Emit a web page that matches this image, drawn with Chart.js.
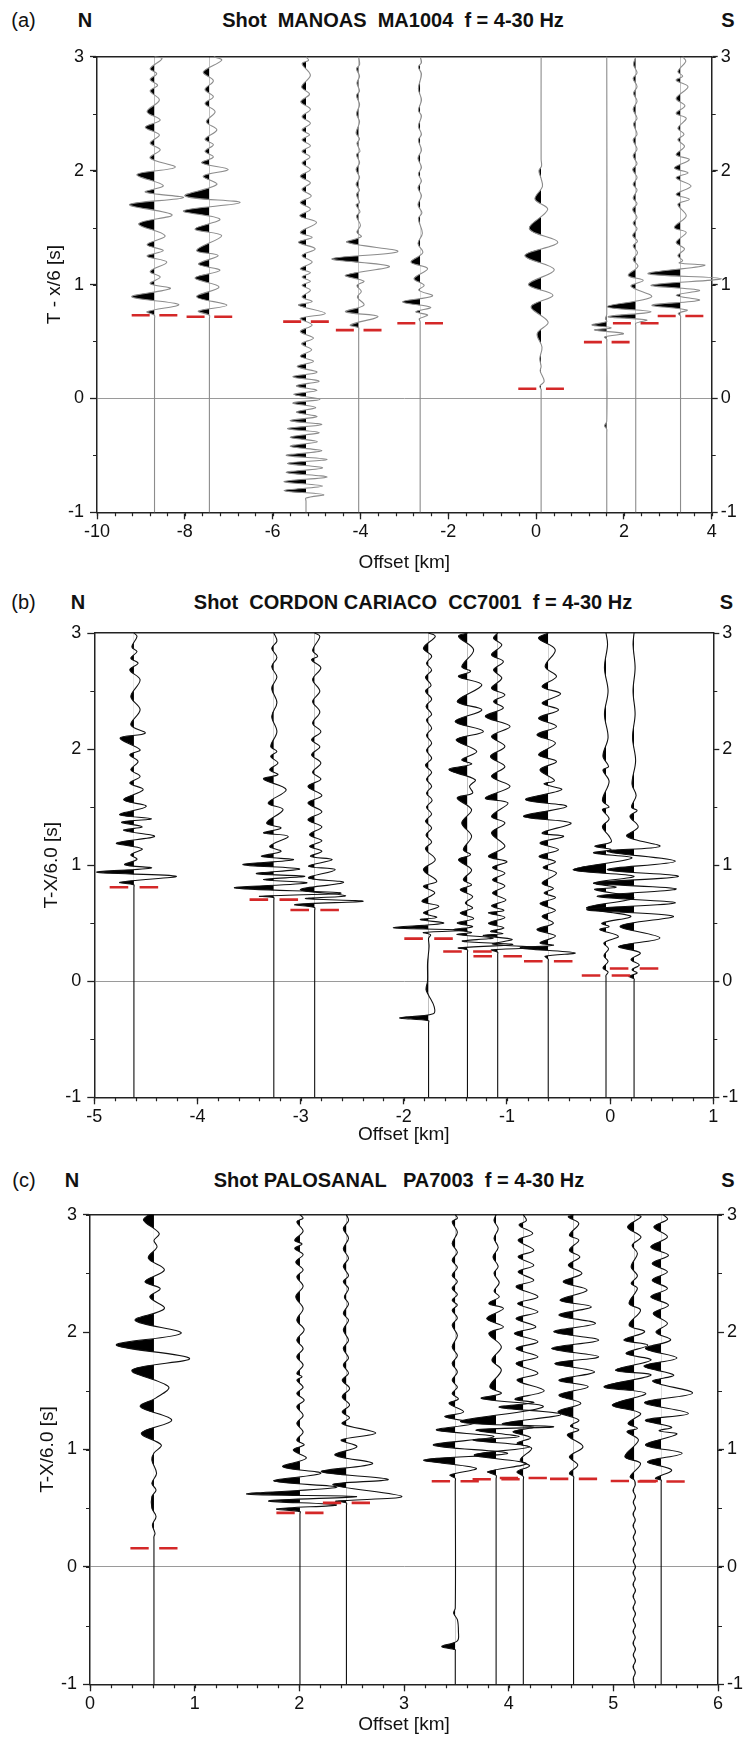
<!DOCTYPE html>
<html><head><meta charset="utf-8">
<script src="https://cdn.jsdelivr.net/npm/chart.js@4.4.1/dist/chart.umd.min.js"></script>
<style>
html,body{margin:0;padding:0;background:#fff;}
body{width:748px;height:1737px;position:relative;overflow:hidden;font-family:"Liberation Sans",Arial,Helvetica,sans-serif;color:#111;}
.t{position:absolute;transform:translate(-50%,-50%);white-space:pre;font-size:20px;line-height:1;}
.b{font-weight:bold;}
canvas{position:absolute;left:0;}
</style></head><body>
<div class="t" style="left:23.5px;top:20px">(a)</div>
<div class="t b" style="left:85px;top:20px">N</div>
<div class="t b" style="left:393px;top:20px">Shot  MANOAS  MA1004  f = 4-30 Hz</div>
<div class="t b" style="left:728px;top:20px">S</div>
<div class="t" style="left:23.5px;top:602px">(b)</div>
<div class="t b" style="left:78px;top:602px">N</div>
<div class="t b" style="left:413px;top:602px">Shot  CORDON CARIACO  CC7001  f = 4-30 Hz</div>
<div class="t b" style="left:726.5px;top:602px">S</div>
<div class="t" style="left:24px;top:1180px">(c)</div>
<div class="t b" style="left:72px;top:1180px">N</div>
<div class="t b" style="left:399px;top:1180px">Shot PALOSANAL   PA7003  f = 4-30 Hz</div>
<div class="t b" style="left:728px;top:1180px">S</div>
<canvas id="ca" width="748" height="545" style="top:40px"></canvas>
<canvas id="cb" width="748" height="540" style="top:615px"></canvas>
<canvas id="cc" width="748" height="542" style="top:1195px"></canvas>
<script>
// ---------- tick labels ----------
const yTicks = [-1, 0, 1, 2, 3];
const xTicksA = [-10, -8, -6, -4, -2, 0, 2, 4];
const xTicksB = [-5, -4, -3, -2, -1, 0, 1];
const xTicksC = [0, 1, 2, 3, 4, 5, 6];

// ---------- panel (a): trace offsets [km], picked times [s] ----------
const offsetsA = [-8.69, -7.44, -5.24, -4.04, -2.64, 0.115, 1.61, 2.27, 3.29];
const picksA = [0.73, 0.717, 0.674, 0.60, 0.66, 0.085, 0.494, 0.66, 0.724];
// traces: pairs of [reduced time (s), deflection (km)]
const A1 = [3.0,0, 2.983,0.17, 2.895,-0.1, 2.852,0.05, 2.80,-0.1, 2.75,0.07, 2.701,-0.1, 2.62,0.11, 2.518,-0.17, 2.445,0.13, 2.382,-0.21, 2.315,0.11, 2.242,-0.1, 2.184,0.13, 2.111,-0.1, 2.03,0.47, 1.966,-0.40, 1.87,0.2, 1.812,-0.21, 1.763,0.66, 1.702,-0.57, 1.612,0.40, 1.534,-0.36, 1.429,0.24, 1.351,-0.17, 1.298,0.2, 1.249,-0.17, 1.197,0.28, 1.115,-0.1, 1.066,0.13, 1.008,-0.1, 0.965,0.36, 0.892,-0.52, 0.825,0.55, 0.761,-0.17, 0.73,0, 0.70,0, -1,0];
const A2 = [3.0,0.1, 2.97,0.28, 2.866,-0.14, 2.79,0.09, 2.713,-0.1, 2.65,0.09, 2.59,-0.1, 2.518,0.13, 2.43,-0.07, 2.358,0.17, 2.277,-0.1, 2.228,0.09, 2.17,-0.1, 2.12,0.09, 2.068,-0.175, 2.01,0.43, 1.952,-0.14, 1.879,0.17, 1.778,-0.555, 1.72,0.70, 1.647,-0.59, 1.574,0.24, 1.487,-0.33, 1.43,0.28, 1.30,-0.29, 1.255,0.2, 1.18,-0.25, 1.124,0.24, 1.057,-0.33, 0.979,0.22, 0.892,-0.29, 0.819,0.40, 0.767,-0.25, 0.73,0, 0.70,0, -1,0];
const A3 = [3.0,0, 2.97,0.06, 2.939,-0.09, 2.837,0.1, 2.736,-0.1, 2.672,0.08, 2.605,-0.12, 2.538,0.1, 2.474,-0.09, 2.416,0.1, 2.358,-0.09, 2.315,0.08, 2.271,-0.09, 2.219,0.1, 2.17,-0.09, 2.12,0.09, 2.068,-0.09, 2.01,0.1, 1.952,-0.13, 1.894,0.1, 1.836,-0.09, 1.778,0.12, 1.72,-0.13, 1.662,0.1, 1.603,-0.14, 1.545,0.24, 1.458,-0.13, 1.415,0.14, 1.371,-0.17, 1.313,0.21, 1.255,-0.09, 1.197,0.14, 1.139,-0.13, 1.104,0.1, 1.066,-0.09, 1.029,0.1, 0.994,-0.09, 0.95,0.1, 0.892,-0.09, 0.85,0.14, 0.819,-0.17, 0.747,0.44, 0.703,-0.13, 0.645,0.14, 0.587,-0.13, 0.53,0.17, 0.48,-0.1, 0.427,0.13, 0.37,-0.13, 0.326,0.17, 0.28,-0.2, 0.23,0.25, 0.19,-0.3, 0.152,0.3, 0.11,-0.22, 0.07,0.25, 0.035,-0.28, -0.008,0.32, -0.04,-0.3, -0.08,0.22, -0.12,-0.22, -0.16,0.25, -0.195,-0.36, -0.23,0.36, -0.265,-0.42, -0.30,0.3, -0.34,-0.36, -0.38,0.26, -0.42,-0.36, -0.46,0.36, -0.5,-0.45, -0.535,0.48, -0.57,-0.42, -0.61,0.38, -0.65,-0.45, -0.69,0.48, -0.73,-0.5, -0.77,0.38, -0.81,-0.5, -0.845,0.4, -0.875,0, -0.9,0, -1,0];
const A4 = [3.0,0, 2.93,0.02, 2.895,-0.05, 2.83,0.02, 2.77,-0.04, 2.70,0.02, 2.66,-0.05, 2.58,0.02, 2.50,-0.05, 2.43,0.02, 2.33,-0.06, 2.28,0.02, 2.24,-0.04, 2.17,0.03, 2.14,-0.05, 2.07,0.02, 2.01,-0.06, 1.94,0.02, 1.88,-0.06, 1.83,0.02, 1.79,-0.05, 1.72,0.02, 1.70,-0.06, 1.64,0.03, 1.60,-0.05, 1.52,0.04, 1.46,-0.04, 1.42,0.06, 1.371,-0.27, 1.29,0.89, 1.226,-0.61, 1.16,0.70, 1.081,-0.30, 1.03,0.12, 0.99,-0.04, 0.94,0.06, 0.89,-0.03, 0.82,0.12, 0.761,-0.30, 0.72,0.44, 0.645,-0.19, 0.62,0, 0.60,0, -1,0];
const A5 = [3.0,0, 2.95,0.03, 2.91,-0.04, 2.85,0.03, 2.72,-0.04, 2.62,0.03, 2.53,-0.04, 2.48,0.03, 2.39,-0.04, 2.32,0.03, 2.27,-0.04, 2.18,0.03, 2.11,-0.05, 2.03,0.03, 1.97,-0.04, 1.91,0.03, 1.85,-0.05, 1.78,0.03, 1.70,-0.05, 1.63,0.04, 1.58,-0.04, 1.45,0.05, 1.36,-0.05, 1.28,0.06, 1.197,-0.21, 1.14,0.17, 1.052,-0.14, 0.994,0.09, 0.95,-0.03, 0.90,0.28, 0.848,-0.40, 0.80,0.24, 0.761,-0.10, 0.732,0.17, 0.70,-0.02, 0.675,0, 0.65,0, -1,0];
const A6 = [3.0,0, 2.1,0, 2.04,0.01, 2.0,-0.05, 1.93,0.0, 1.86,0.03, 1.75,-0.14, 1.66,0.15, 1.49,-0.27, 1.37,0.38, 1.255,-0.37, 1.13,0.30, 1.0,-0.29, 0.906,0.27, 0.805,-0.23, 0.67,0.16, 0.57,-0.09, 0.45,0.02, 0.35,-0.03, 0.28,0.0, 0.24,-0.02, 0.15,0.07, 0.107,-0.03, 0.08,0, 0.05,0, -1,0];
const A7 = [3.0,0, 0.74,0, 0.70,-0.03, 0.675,0, 0.645,-0.34, 0.62,0.10, 0.60,-0.28, 0.57,0.38, 0.54,-0.05, 0.52,0, 0.49,0, -0.2,0, -0.24,-0.05, -0.27,0, -0.3,0, -1,0];
const A8 = [3.0,0, 2.93,-0.05, 2.86,0.03, 2.81,-0.06, 2.74,0.03, 2.68,-0.05, 2.61,0.03, 2.54,-0.06, 2.46,0.03, 2.41,-0.05, 2.32,0.03, 2.27,-0.06, 2.19,0.03, 2.13,-0.06, 2.06,0.03, 2.01,-0.07, 1.94,0.03, 1.88,-0.06, 1.83,0.03, 1.76,-0.06, 1.71,0.03, 1.66,-0.07, 1.59,0.03, 1.54,-0.06, 1.49,0.03, 1.43,-0.07, 1.38,0.04, 1.34,-0.06, 1.28,0.04, 1.22,-0.06, 1.16,0.05, 1.08,-0.17, 1.037,0.17, 0.985,-0.11, 0.892,0.36, 0.805,-0.65, 0.761,0.35, 0.718,-0.63, 0.689,0.25, 0.66,0, 0.64,0, -1,0];
const A9 = [3.0,0.05, 2.96,0.12, 2.87,-0.06, 2.83,0.05, 2.794,-0.1, 2.736,0.17, 2.634,-0.1, 2.57,0.1, 2.503,-0.1, 2.46,0.13, 2.373,-0.06, 2.32,0.08, 2.271,-0.06, 2.213,0.09, 2.14,-0.1, 2.097,0.2, 2.024,-0.14, 1.981,0.17, 1.937,-0.1, 1.865,0.24, 1.792,-0.1, 1.748,0.2, 1.705,-0.06, 1.603,0.13, 1.502,-0.14, 1.458,0.13, 1.371,-0.1, 1.313,0.09, 1.255,-0.06, 1.21,0.05, 1.19,-0.03, 1.168,0.55, 1.095,-0.74, 1.052,0.93, 0.994,-0.67, 0.95,0.43, 0.906,-0.1, 0.862,0.43, 0.819,-0.65, 0.776,0.15, 0.747,-0.05, 0.724,0, 0.70,0, -1,0];

// ---------- panel (b) ----------
const offsetsB = [-4.616, -3.26, -2.864, -1.76, -1.383, -1.09, -0.60, -0.04, 0.232];
const picksB = [0.81, 0.703, 0.614, 0.367, 0.256, 0.215, 0.172, 0.049, 0.109];
const B1 = [3.0,0, 2.97,0.03, 2.88,-0.02, 2.84,0.03, 2.783,-0.03, 2.74,0.04, 2.682,-0.04, 2.596,0.06, 2.453,-0.03, 2.338,0.06, 2.209,-0.03, 2.137,0.11, 2.094,-0.135, 1.994,0.06, 1.951,-0.04, 1.893,0.04, 1.822,-0.03, 1.764,0.06, 1.707,-0.04, 1.65,0.09, 1.564,-0.10, 1.506,0.12, 1.435,-0.14, 1.40,0.17, 1.37,-0.12, 1.33,0.08, 1.30,-0.1, 1.248,0.2, 1.19,-0.17, 1.14,0.08, 1.09,-0.03, 1.05,0.03, 1.004,-0.09, 0.976,0.17, 0.938,-0.36, 0.904,0.41, 0.852,-0.135, 0.83,0, 0.81,0, -1,0];
const B2 = [3.0,0, 2.93,0.03, 2.869,-0.02, 2.79,0.03, 2.711,-0.02, 2.62,0.03, 2.525,-0.02, 2.40,0.03, 2.281,-0.02, 2.15,0.03, 2.023,-0.03, 1.98,0.03, 1.937,-0.03, 1.88,0.04, 1.822,-0.04, 1.78,0.04, 1.742,-0.10, 1.65,0.12, 1.535,-0.055, 1.478,0.09, 1.363,-0.07, 1.32,0.07, 1.277,-0.10, 1.248,0.14, 1.162,-0.04, 1.119,0.07, 1.076,-0.12, 1.047,0.19, 1.004,-0.30, 0.967,0.25, 0.927,-0.17, 0.904,0.3, 0.875,-0.10, 0.847,0.32, 0.804,-0.38, 0.76,0.65, 0.732,-0.135, 0.72,0, 0.70,0, -1,0];
const B3 = [3.0,0, 2.97,0.05, 2.85,-0.02, 2.80,0.03, 2.769,-0.03, 2.70,0.06, 2.60,-0.02, 2.50,0.05, 2.41,-0.02, 2.32,0.05, 2.223,-0.02, 2.15,0.06, 2.08,-0.03, 2.02,0.05, 1.951,-0.03, 1.88,0.06, 1.80,-0.02, 1.74,0.06, 1.678,-0.065, 1.60,0.07, 1.535,-0.065, 1.46,0.07, 1.392,-0.065, 1.33,0.07, 1.262,-0.05, 1.21,0.07, 1.162,-0.05, 1.12,0.07, 1.076,-0.04, 1.047,0.17, 0.99,-0.06, 0.961,0.2, 0.89,-0.06, 0.852,0.28, 0.789,-0.14, 0.737,0.30, 0.712,-0.09, 0.689,0.47, 0.66,-0.19, 0.635,0, 0.61,0, -1,0];
const B4 = [3.0,0, 2.97,0.065, 2.869,-0.05, 2.80,0.03, 2.74,-0.02, 2.68,0.03, 2.62,-0.03, 2.55,0.025, 2.50,-0.03, 2.43,0.03, 2.37,-0.025, 2.30,0.03, 2.25,-0.02, 2.18,0.03, 2.12,-0.02, 2.05,0.03, 1.99,-0.02, 1.92,0.03, 1.86,-0.03, 1.80,0.03, 1.74,-0.02, 1.68,0.03, 1.62,-0.02, 1.56,0.035, 1.50,-0.02, 1.44,0.03, 1.38,-0.03, 1.32,0.03, 1.26,-0.025, 1.20,0.03, 1.14,-0.03, 1.047,0.065, 0.961,-0.05, 0.861,0.08, 0.818,-0.05, 0.761,0.06, 0.689,-0.065, 0.646,0.10, 0.588,-0.05, 0.55,0.08, 0.531,-0.08, 0.50,0.145, 0.46,-0.34, 0.44,0.37, 0.42,-0.05, 0.40,0.02, 0.37,0, 0.3,0.005, 0.15,-0.01, 0.0,-0.01, -0.07,-0.025, -0.12,0.0, -0.22,0.055, -0.28,0.045, -0.315,-0.28, -0.34,0, -0.36,0, -1,0];
const B5 = [3.0,0, 2.969,-0.087, 2.855,0.06, 2.711,-0.055, 2.67,0.03, 2.625,-0.087, 2.553,0.14, 2.41,-0.10, 2.338,0.14, 2.238,-0.12, 2.152,0.155, 2.08,-0.11, 1.98,0.09, 1.908,-0.055, 1.87,0.04, 1.822,-0.18, 1.736,0.075, 1.68,0.02, 1.62,0.05, 1.578,-0.10, 1.478,0.04, 1.363,-0.055, 1.25,0.04, 1.134,-0.04, 1.09,0.03, 1.047,-0.087, 0.96,0.04, 0.875,-0.04, 0.83,0.04, 0.789,-0.07, 0.73,0.05, 0.674,-0.02, 0.63,0.05, 0.588,-0.07, 0.54,0.06, 0.502,-0.10, 0.47,0.05, 0.445,-0.135, 0.42,0.04, 0.402,-0.1, 0.373,0.25, 0.345,-0.05, 0.316,0.44, 0.287,-0.087, 0.27,0, 0.25,0, -1,0];
const B6 = [3.0,0, 2.955,-0.04, 2.897,0.04, 2.812,-0.06, 2.754,0.055, 2.682,-0.04, 2.611,0.04, 2.525,-0.06, 2.467,0.07, 2.41,-0.04, 2.353,0.055, 2.281,-0.12, 2.195,0.12, 2.109,-0.06, 2.023,0.07, 1.937,-0.07, 1.85,0.07, 1.764,-0.06, 1.678,0.12, 1.578,-0.12, 1.535,0.1, 1.42,-0.06, 1.363,0.07, 1.277,-0.06, 1.162,0.07, 1.076,-0.09, 1.03,0.09, 0.98,-0.05, 0.93,0.07, 0.875,-0.05, 0.82,0.07, 0.76,-0.05, 0.70,0.08, 0.65,-0.06, 0.61,0.06, 0.588,-0.09, 0.55,0.07, 0.50,-0.09, 0.46,0.06, 0.43,-0.07, 0.41,0.05, 0.393,-0.14, 0.36,0.14, 0.32,-0.05, 0.29,0.40, 0.27,-0.06, 0.25,0, 0.23,0, -1,0];
const B7 = [3.0,0, 2.955,-0.094, 2.855,0.068, 2.711,-0.03, 2.625,0.08, 2.539,-0.06, 2.476,0.12, 2.396,-0.06, 2.338,0.1, 2.266,-0.094, 2.195,0.08, 2.123,-0.11, 2.051,0.07, 1.951,-0.094, 1.893,0.08, 1.822,-0.08, 1.73,0.06, 1.70,-0.04, 1.65,0.13, 1.564,-0.22, 1.506,0.18, 1.42,-0.24, 1.363,0.22, 1.277,-0.06, 1.248,0.15, 1.191,-0.08, 1.134,0.1, 1.076,-0.09, 1.03,0.07, 0.98,-0.05, 0.93,0.08, 0.846,-0.06, 0.80,0.05, 0.76,-0.04, 0.72,0.07, 0.67,-0.08, 0.61,0.07, 0.56,-0.06, 0.50,0.05, 0.445,-0.11, 0.39,0.07, 0.33,-0.08, 0.31,0.05, 0.287,-0.27, 0.244,0.26, 0.215,-0.03, 0.19,0, 0.17,0, -1,0];
const B8 = [3.0,0, 2.9,0.015, 2.7,-0.015, 2.5,0.02, 2.3,-0.015, 2.1,0.02, 1.94,-0.03, 1.85,0.025, 1.82,-0.03, 1.72,0.03, 1.56,-0.035, 1.50,0.03, 1.48,-0.035, 1.40,0.03, 1.33,-0.035, 1.25,0.03, 1.20,0.05, 1.162,-0.11, 1.135,0.05, 1.105,-0.12, 1.06,0.25, 0.961,-0.32, 0.904,0.27, 0.846,-0.12, 0.81,0.1, 0.79,-0.11, 0.717,0.27, 0.632,-0.19, 0.56,0.24, 0.50,-0.04, 0.47,0.03, 0.445,-0.06, 0.387,0.12, 0.33,-0.02, 0.28,0.025, 0.22,-0.02, 0.17,0.02, 0.115,-0.03, 0.08,0.02, 0.05,0, 0.03,0, -1,0];
const B9 = [3.0,0, 2.9,-0.01, 2.7,0.01, 2.5,-0.01, 2.3,0.01, 2.1,-0.015, 1.9,0.015, 1.7,-0.02, 1.6,0.02, 1.5,-0.025, 1.47,0.03, 1.42,-0.04, 1.33,0.04, 1.248,-0.07, 1.162,0.25, 1.119,-0.26, 1.034,0.40, 0.961,-0.26, 0.904,0.43, 0.846,-0.38, 0.795,0.41, 0.732,-0.36, 0.675,0.4, 0.617,-0.46, 0.56,0.38, 0.474,-0.135, 0.373,0.25, 0.30,-0.15, 0.244,0.06, 0.187,-0.03, 0.14,0.05, 0.10,-0.02, 0.07,0.03, 0.043,-0.05, 0.02,0, 0.0,0, -1,0];

// ---------- panel (c) ----------
const offsetsC = [0.611, 2.006, 2.45, 3.49, 3.88, 4.14, 4.62, 5.20, 5.457];
const picksC = [0.159, 0.46, 0.545, 0.73, 0.746, 0.757, 0.75, 0.732, 0.727];
const C1 = [3.0,-0.05, 2.953,-0.10, 2.84,0.05, 2.78,0.0, 2.726,0.03, 2.63,-0.054, 2.53,0.10, 2.43,-0.086, 2.37,0.06, 2.30,-0.04, 2.20,0.10, 2.10,-0.18, 1.99,0.26, 1.89,-0.36, 1.776,0.34, 1.676,-0.21, 1.534,0.14, 1.44,0.02, 1.365,-0.13, 1.25,0.17, 1.14,-0.12, 1.038,0.07, 0.97,0.0, 0.91,-0.02, 0.797,0.025, 0.712,-0.02, 0.655,0.02, 0.599,-0.02, 0.5,-0.02, 0.43,0.02, 0.357,-0.015, 0.287,0.01, 0.258,0, 0.23,0, -1,0];
const C2 = [3.0,0, 2.97,0.03, 2.939,-0.03, 2.86,0.03, 2.783,-0.05, 2.75,0.02, 2.712,-0.05, 2.66,0.03, 2.598,-0.04, 2.53,0.03, 2.471,-0.03, 2.39,0.03, 2.301,-0.04, 2.2,0.03, 2.102,-0.03, 2.02,0.04, 1.932,-0.03, 1.86,0.03, 1.79,-0.03, 1.72,0.03, 1.648,-0.03, 1.62,0.02, 1.591,-0.03, 1.53,0.03, 1.478,-0.03, 1.42,0.04, 1.365,-0.03, 1.29,0.03, 1.223,-0.03, 1.15,0.03, 1.08,-0.03, 1.04,0.04, 0.996,-0.064, 0.925,0.06, 0.854,-0.165, 0.797,0.2, 0.732,-0.25, 0.678,0.35, 0.621,-0.51, 0.599,0.54, 0.562,-0.30, 0.528,0.35, 0.494,-0.22, 0.471,0, 0.45,0, -1,0];
const C3 = [3.0,0, 2.95,0.02, 2.88,-0.03, 2.80,0.02, 2.71,-0.03, 2.63,0.02, 2.56,-0.03, 2.48,0.02, 2.43,-0.03, 2.37,0.02, 2.30,-0.02, 2.24,0.02, 2.16,-0.03, 2.10,0.02, 2.02,-0.03, 1.93,0.02, 1.86,-0.03, 1.78,0.02, 1.72,-0.03, 1.65,0.02, 1.59,-0.04, 1.52,0.03, 1.45,-0.04, 1.38,0.03, 1.32,-0.04, 1.27,0.03, 1.22,-0.04, 1.14,0.28, 1.081,-0.05, 1.024,0.10, 0.953,-0.11, 0.88,0.25, 0.811,-0.24, 0.746,0.40, 0.70,-0.13, 0.60,0.53, 0.56,-0.1, 0.545,0, 0.52,0, -1,0];
const C4 = [3.0,0, 2.97,0.02, 2.939,-0.03, 2.85,0.02, 2.754,-0.03, 2.68,0.02, 2.613,-0.03, 2.55,0.02, 2.485,-0.03, 2.43,0.02, 2.372,-0.03, 2.32,0.02, 2.272,-0.03, 2.23,0.02, 2.187,-0.03, 2.12,0.02, 2.06,-0.03, 1.97,0.02, 1.875,-0.03, 1.80,0.02, 1.733,-0.03, 1.66,0.02, 1.591,-0.03, 1.53,0.02, 1.478,-0.03, 1.43,0.03, 1.393,-0.06, 1.32,0.08, 1.279,-0.10, 1.223,0.18, 1.166,-0.18, 1.109,0.37, 1.038,-0.21, 0.967,0.50, 0.911,-0.30, 0.84,0.2, 0.783,-0.05, 0.755,0, 0.73,0, -0.35,0, -0.394,-0.016, -0.45,0.02, -0.55,0.03, -0.63,0.02, -0.678,-0.13, -0.706,0, -0.72,0, -1,0];
const C5 = [3.0,0, 2.95,-0.02, 2.88,0.02, 2.80,-0.02, 2.72,0.02, 2.64,-0.03, 2.56,0.02, 2.50,-0.02, 2.42,0.03, 2.35,-0.02, 2.30,0.03, 2.244,-0.07, 2.201,0.07, 2.116,-0.09, 2.045,0.07, 1.989,-0.07, 1.875,0.05, 1.762,-0.04, 1.676,0.05, 1.535,-0.06, 1.478,0.05, 1.435,-0.14, 1.364,0.45, 1.237,-0.34, 1.194,0.55, 1.166,-0.19, 1.109,0.22, 1.081,-0.22, 1.024,0.32, 0.953,-0.21, 0.882,0.29, 0.811,-0.08, 0.78,0, 0.75,0, -1,0];
const C6 = [3.0,0, 2.95,0.03, 2.911,-0.04, 2.84,0.09, 2.783,-0.05, 2.698,0.10, 2.641,-0.05, 2.57,0.10, 2.513,-0.05, 2.442,0.10, 2.386,-0.07, 2.301,0.14, 2.244,-0.055, 2.173,0.14, 2.116,-0.07, 2.045,0.12, 1.989,-0.086, 1.918,0.14, 1.86,-0.07, 1.79,0.14, 1.733,-0.07, 1.65,0.14, 1.59,-0.06, 1.50,0.2, 1.43,-0.08, 1.40,0.1, 1.36,-0.23, 1.30,0.36, 1.22,-0.2, 1.19,0.1, 1.152,-0.1, 1.10,0.07, 1.053,-0.06, 1.01,0.08, 0.911,-0.03, 0.86,0.06, 0.811,-0.06, 0.77,0, 0.74,0, -1,0];
const C7 = [3.0,0, 2.981,-0.05, 2.925,0.05, 2.825,-0.04, 2.783,0.05, 2.698,-0.04, 2.641,0.06, 2.57,-0.05, 2.499,0.08, 2.428,-0.10, 2.357,0.13, 2.272,-0.13, 2.215,0.17, 2.145,-0.14, 2.074,0.21, 2.003,-0.19, 1.932,0.24, 1.861,-0.21, 1.79,0.24, 1.733,-0.18, 1.662,0.2, 1.591,-0.14, 1.535,0.14, 1.464,-0.14, 1.393,0.07, 1.322,-0.15, 1.251,0.05, 1.20,-0.03, 1.166,0.05, 1.123,-0.06, 1.024,0.09, 0.939,-0.04, 0.868,0.04, 0.797,-0.04, 0.77,0, 0.74,0, -1,0];
const C8 = [3.0,0.02, 2.981,0.064, 2.896,-0.064, 2.811,0.064, 2.74,-0.02, 2.67,0.03, 2.556,-0.03, 2.48,0.03, 2.414,-0.03, 2.372,0.03, 2.244,-0.05, 2.187,0.06, 2.06,-0.05, 2.003,0.1, 1.932,-0.1, 1.889,0.13, 1.818,-0.08, 1.762,0.16, 1.676,-0.18, 1.634,0.16, 1.535,-0.29, 1.478,0.11, 1.379,-0.21, 1.308,0.06, 1.223,-0.06, 1.18,0.03, 1.152,-0.07, 1.081,0.04, 0.939,-0.09, 0.882,0.06, 0.769,-0.04, 0.74,0, 0.70,0.01, 0.65,-0.012, 0.60,0.012, 0.55,-0.01, 0.50,0.012, 0.45,-0.012, 0.40,0.01, 0.35,-0.012, 0.30,0.012, 0.25,-0.01, 0.20,0.012, 0.15,-0.012, 0.10,0.012, 0.05,-0.01, 0.0,0.012, -0.05,-0.012, -0.10,0.01, -0.15,-0.012, -0.20,0.012, -0.25,-0.012, -0.30,0.01, -0.35,-0.012, -0.40,0.012, -0.45,-0.01, -0.50,0.012, -0.55,-0.012, -0.60,0.01, -0.65,-0.012, -0.70,0.012, -0.75,-0.01, -0.80,0.012, -0.85,-0.012, -0.90,0.01, -0.95,-0.01, -1,0];
const C9 = [3.0,0.02, 2.96,0.06, 2.896,-0.07, 2.811,0.06, 2.726,-0.10, 2.655,0.07, 2.584,-0.086, 2.513,0.06, 2.442,-0.086, 2.372,0.06, 2.301,-0.10, 2.23,0.07, 2.159,-0.076, 2.074,0.06, 2.00,-0.05, 1.932,0.09, 1.86,-0.15, 1.78,0.15, 1.71,-0.165, 1.634,0.12, 1.58,-0.08, 1.48,0.30, 1.40,-0.16, 1.307,0.26, 1.25,-0.15, 1.19,0.10, 1.16,-0.02, 1.13,0.15, 1.038,-0.15, 0.967,0.20, 0.896,-0.13, 0.826,0.10, 0.755,-0.054, 0.74,0, 0.72,0, -1,0];

// ---------- helpers ----------
Chart.defaults.font.family = "'Liberation Sans', Arial, Helvetica, sans-serif";
Chart.defaults.color = '#111';

function tracePoints(x0, arr) {
  const pts = [];
  for (let i = 0; i < arr.length; i += 2) pts.push({x: x0 + arr[i + 1], y: arr[i]});
  return pts;
}
function pickPoints(offsets, times, half, gap) {
  const pts = [];
  offsets.forEach((x0, i) => {
    const t = times[i];
    pts.push({x: x0 - half, y: t}, {x: x0 - gap, y: t}, {x: null, y: null},
             {x: x0 + gap, y: t}, {x: x0 + half, y: t}, {x: null, y: null});
  });
  return pts;
}

// black fill of the left (negative) lobes, using the line element built by Chart.js
const wiggleFill = {
  id: 'wiggleFill',
  beforeDatasetDraw(chart, args) {
    const ds = chart.data.datasets[args.index];
    if (typeof ds.traceX !== 'number') return;
    const meta = args.meta, line = meta.dataset, pts = meta.data;
    if (!line || !pts || pts.length < 2) return;
    const ctx = chart.ctx;
    const px = chart.scales.x.getPixelForValue(ds.traceX);
    ctx.save();
    ctx.beginPath();
    ctx.rect(0, 0, px, chart.height);
    ctx.clip();
    ctx.beginPath();
    if (typeof line.path === 'function') {
      line.path(ctx);
    } else {
      ctx.moveTo(pts[0].x, pts[0].y);
      for (let i = 1; i < pts.length; i++) {
        const p = pts[i - 1], q = pts[i];
        ctx.bezierCurveTo(p.cp2x, p.cp2y, q.cp1x, q.cp1y, q.x, q.y);
      }
    }
    ctx.lineTo(px, pts[pts.length - 1].y);
    ctx.lineTo(px, pts[0].y);
    ctx.closePath();
    ctx.fillStyle = '#000';
    ctx.fill();
    ctx.restore();
  }
};

// minor tick marks (outside of the frame)
const minorTicks = {
  id: 'minorTicks',
  afterDraw(chart, args, o) {
    const ctx = chart.ctx, a = chart.chartArea;
    const sx = chart.scales.x, sy = chart.scales.y;
    ctx.save();
    ctx.strokeStyle = '#222';
    ctx.lineWidth = 1.2;
    ctx.beginPath();
    const nx = Math.round((sx.max - sx.min) / o.xStep);
    for (let i = 0; i <= nx; i++) {
      const px = Math.round(sx.getPixelForValue(sx.min + i * o.xStep)) + 0.5;
      ctx.moveTo(px, a.bottom); ctx.lineTo(px, a.bottom + o.len);
    }
    const ny = Math.round((sy.max - sy.min) / o.yStep);
    for (let j = 0; j <= ny; j++) {
      const py = Math.round(sy.getPixelForValue(sy.min + j * o.yStep)) + 0.5;
      ctx.moveTo(a.left, py); ctx.lineTo(a.left - o.len, py);
      ctx.moveTo(a.right, py); ctx.lineTo(a.right + o.len, py);
    }
    ctx.stroke();
    ctx.restore();
  }
};

const AXIS = '#222';
const RED = '#d42828';

function buildPanel(id, c) {
  const datasets = [];
  datasets.push({
    data: pickPoints(c.offsets, c.picks, c.pickHalf, c.pickGap),
    showLine: true, borderColor: RED, borderWidth: 2.6, pointRadius: 0,
    tension: 0, spanGaps: false, clip: false, order: 0
  });
  c.traces.forEach((arr, i) => {
    datasets.push({
      data: tracePoints(c.offsets[i], arr), traceX: c.offsets[i],
      showLine: true, borderColor: c.stroke, borderWidth: 1.1, pointRadius: 0,
      tension: 0.35, clip: false, order: 100 - i
    });
  });
  const setTicks = arr => s => { s.ticks = arr.map(v => ({value: v})); };
  new Chart(document.getElementById(id), {
    type: 'scatter',
    data: {datasets},
    plugins: [wiggleFill, minorTicks],
    options: {
      responsive: false, animation: false, devicePixelRatio: 1, events: [],
      layout: {padding: {top: c.padTop, bottom: 0, left: 0, right: 0}},
      elements: {point: {radius: 0, hoverRadius: 0}, line: {capBezierPoints: false}},
      plugins: {legend: {display: false}, tooltip: {enabled: false},
                minorTicks: {xStep: c.minor, yStep: 0.5, len: 4}},
      scales: {
        x: {
          type: 'linear', position: 'bottom', min: c.xmin, max: c.xmax,
          afterBuildTicks: setTicks(c.xticks),
          afterFit: s => { s.height = c.xAxisH; },
          ticks: {font: {size: 18}, color: '#111', padding: 2, autoSkip: false, maxRotation: 0},
          grid: {drawOnChartArea: false, tickLength: 7, tickColor: AXIS, tickWidth: 1.3},
          border: {display: true, color: AXIS, width: 1.5},
          title: {display: true, text: 'Offset [km]', font: {size: 19}, color: '#111',
                  padding: {top: 0, bottom: c.xTitlePad}}
        },
        xTop: {
          type: 'linear', position: 'top', min: c.xmin, max: c.xmax,
          ticks: {display: false},
          grid: {drawOnChartArea: false, drawTicks: false},
          border: {display: true, color: AXIS, width: 1.5},
          afterFit: s => { s.height = 0; }
        },
        y: {
          type: 'linear', position: 'left', min: -1, max: 3,
          afterBuildTicks: setTicks(yTicks),
          afterFit: s => { s.width = c.left; },
          ticks: {font: {size: 18}, color: '#111', padding: 6},
          grid: {color: g => (g.tick && g.tick.value === 0) ? '#9a9a9a' : 'rgba(0,0,0,0)',
                 lineWidth: 1, tickColor: AXIS, tickLength: 7, tickWidth: 1.3},
          border: {display: true, color: AXIS, width: 1.5},
          title: {display: true, text: c.ytitle, font: {size: 19}, color: '#111',
                  padding: {top: c.yTitlePad, bottom: 0}}
        },
        y2: {
          type: 'linear', position: 'right', min: -1, max: 3,
          afterBuildTicks: setTicks(yTicks),
          afterFit: s => { s.width = 748 - c.right; },
          ticks: {font: {size: 18}, color: '#111', padding: 3},
          grid: {drawOnChartArea: false, tickLength: 6, tickColor: AXIS, tickWidth: 1.3},
          border: {display: true, color: AXIS, width: 1.5}
        }
      }
    }
  });
}

buildPanel('ca', {
  offsets: offsetsA, picks: picksA, traces: [A1, A2, A3, A4, A5, A6, A7, A8, A9],
  stroke: '#8c8c8c', pickHalf: 0.52, pickGap: 0.11,
  xmin: -10, xmax: 4, xticks: xTicksA, minor: 0.4,
  padTop: 13, xAxisH: 72.7, xTitlePad: 10.6, left: 97, right: 711.7,
  ytitle: 'T - x/6 [s]', yTitlePad: 43.6
});
buildPanel('cb', {
  offsets: offsetsB, picks: picksB, traces: [B1, B2, B3, B4, B5, B6, B7, B8, B9],
  stroke: '#111', pickHalf: 0.235, pickGap: 0.055,
  xmin: -5, xmax: 1, xticks: xTicksB, minor: 0.2,
  padTop: 18, xAxisH: 57.7, xTitlePad: 8.6, left: 94.3, right: 713.3,
  ytitle: 'T-X/6.0 [s]', yTitlePad: 40.6
});
buildPanel('cc', {
  offsets: offsetsC, picks: picksC, traces: [C1, C2, C3, C4, C5, C6, C7, C8, C9],
  stroke: '#111', pickHalf: 0.225, pickGap: 0.05,
  xmin: 0, xmax: 6, xticks: xTicksC, minor: 0.2,
  padTop: 19.7, xAxisH: 52.7, xTitlePad: 0.6, left: 90, right: 718,
  ytitle: 'T-X/6.0 [s]', yTitlePad: 36.6
});
</script>
</body></html>
